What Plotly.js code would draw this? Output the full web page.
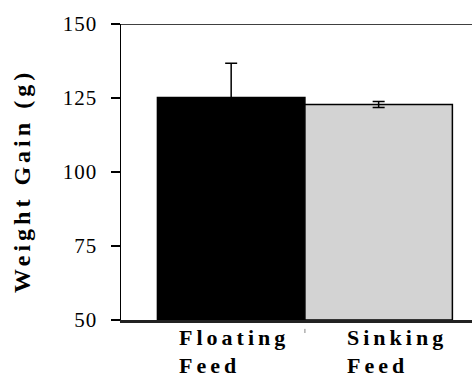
<!DOCTYPE html>
<html>
<head>
<meta charset="utf-8">
<script src="https://cdn.plot.ly/plotly-3.0.1.min.js"></script>
<style>
  html, body { margin: 0; padding: 0; background: #fff; }
  #chart { width: 472px; height: 380px; }
  .annotation-text { letter-spacing: 4px; }
  .ytick text { letter-spacing: 1px; }
</style>
</head>
<body>
<div id="chart"></div>
<script>
// Mean weight gain per feed type, with standard error
const feedTypes = ['Floating', 'Sinking'];
const feedLine2 = ['Feed', 'Feed'];
const weightGain = [125.2, 122.8];
const weightErr = [11.5, 1.0];
const barColors = ['#000000', '#d3d3d3'];
const yTicks = [50, 75, 100, 125, 150];

const positions = feedTypes.map((_, i) => i);

const trace = {
  type: 'bar',
  x: positions,
  y: weightGain.map(v => v - 50),
  base: 50,
  width: 1,
  marker: { color: barColors, line: { color: '#000', width: 1.5 } },
  error_y: { type: 'data', array: weightErr, visible: true, color: '#000', thickness: 1.5, width: 6 },
  hoverinfo: 'skip'
};

const serif = '"Liberation Serif", "Times New Roman", serif';

const annotations = [];
// category labels, two lines each, left-aligned
const labelShift = [-54, -34];
feedTypes.forEach((name, i) => {
  annotations.push({
    text: '<b>' + name + '</b>', x: positions[i], xref: 'x', xanchor: 'left', xshift: labelShift[i],
    y: 0, yref: 'paper', yanchor: 'top', yshift: -3, showarrow: false,
    font: { family: serif, size: 22, color: '#000' }
  });
  annotations.push({
    text: '<b>' + feedLine2[i] + '</b>', x: positions[i], xref: 'x', xanchor: 'left', xshift: labelShift[i],
    y: 0, yref: 'paper', yanchor: 'top', yshift: -31, showarrow: false,
    font: { family: serif, size: 22, color: '#000' }
  });
});
// y-axis title
annotations.push({
  text: '<b>Weight Gain (g)</b>', textangle: -90,
  x: 0, xref: 'paper', xshift: -99, xanchor: 'center',
  y: 97, yref: 'y', yanchor: 'middle', showarrow: false,
  font: { family: serif, size: 24, color: '#000' }
});

const layout = {
  width: 472, height: 380,
  margin: { l: 121, r: 0, t: 24, b: 60, pad: 0 },
  paper_bgcolor: '#fff', plot_bgcolor: '#fff',
  font: { family: serif, color: '#000' },
  showlegend: false,
  bargap: 0,
  xaxis: {
    range: [-0.747, 1.633], showticklabels: false, ticks: '',
    showgrid: false, zeroline: false,
    showline: true, linecolor: '#222', linewidth: 2.5
  },
  yaxis: {
    range: [50, 150], tickvals: yTicks, ticktext: yTicks.map(String),
    ticks: 'outside', ticklen: 9, tickwidth: 1.5, tickcolor: '#000',
    ticklabelstandoff: 9,
    showgrid: false, zeroline: false,
    showline: true, linecolor: '#000', linewidth: 1.5,
    tickfont: { family: serif, size: 21, color: '#000' }
  },
  shapes: [
    // top frame line
    { type: 'line', xref: 'paper', yref: 'y', x0: 0, x1: 1, y0: 150, y1: 150,
      line: { color: '#000', width: 1.5 } },
    // small divider mark below the axis
    { type: 'line', xref: 'x', yref: 'paper', x0: 0.5, x1: 0.5, y0: -0.030, y1: -0.044,
      line: { color: '#888', width: 1 } }
  ],
  annotations: annotations
};

Plotly.newPlot('chart', [trace], layout, { displayModeBar: false, staticPlot: true });
</script>
</body>
</html>
